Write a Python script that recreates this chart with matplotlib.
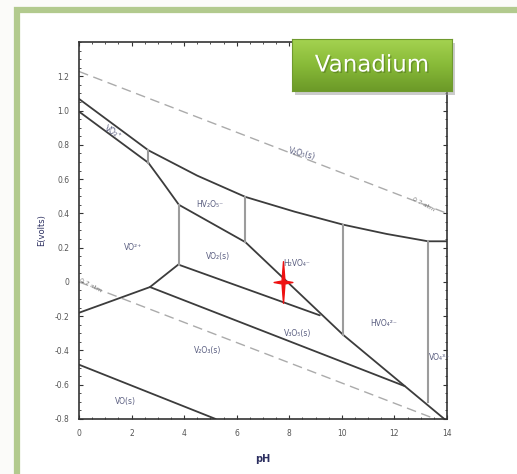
import numpy as np
import matplotlib
matplotlib.use('Agg')
import matplotlib.pyplot as plt
import matplotlib.patheffects as pe
from matplotlib.patches import Rectangle
from matplotlib.path import Path

# boundary lines of the diagram (pH, E in volts)
upper_x = [0, 2.64, 4.5, 6.33, 8.2, 10.05, 11.7, 13.28, 14]
upper_y = [1.068, 0.768, 0.62, 0.496, 0.41, 0.334, 0.28, 0.237, 0.237]
vo2_x = [0, 2.64]
vo2_y = [0.994, 0.695]
left_x = [2.64, 3.2, 3.8]
left_y = [0.695, 0.578, 0.45]
mid_x = [3.8, 6.33, 10.05, 13.9]
mid_y = [0.45, 0.232, -0.309, -0.8]
solid_x = [3.8, 9.16]
solid_y = [0.10, -0.195]
acid_x = [0, 1.3, 2.7, 3.8]
acid_y = [-0.18, -0.108, -0.03, 0.104]
low_x = [2.7, 12.39]
low_y = [-0.03, -0.608]
bottom_x = [0, 5.2]
bottom_y = [-0.483, -0.8]

# vertical boundaries: (pH, E from, E to)
verticals = [(2.64, 0.695, 0.768), (3.8, 0.10, 0.45), (6.33, 0.232, 0.496),
             (10.05, -0.309, 0.334), (13.28, -0.70, 0.237)]

# water lines
o2_x = [0, 14]
o2_y = [1.228, 0.40]
h2_x = [0, 14]
h2_y = [0.0, -0.826]

# region labels
labels = ['VO₂⁺', 'V₂O₅(s)', 'VO²⁺', 'HV₂O₅⁻', 'VO₂(s)', 'H₂VO₄⁻',
          'V₃O₅(s)', 'HVO₄²⁻', 'VO₄³⁻', 'V₂O₃(s)', 'VO(s)']
label_x = [1.3, 8.5, 2.05, 4.98, 5.3, 8.3, 8.3, 11.6, 13.7, 4.9, 1.75]
label_y = [0.875, 0.745, 0.20, 0.45, 0.15, 0.105, -0.30, -0.24, -0.44, -0.40, -0.695]
label_rot = [-30, -14, 0, 0, 0, 0, 0, 0, 0, 0, 0]

# point of interest
star_x = [7.77]
star_y = [0.0]

xticks = [0, 2, 4, 6, 8, 10, 12, 14]
yticks = [-0.8, -0.6, -0.4, -0.2, 0, 0.2, 0.4, 0.6, 0.8, 1.0, 1.2]
ytick_labels = ['-0.8', '-0.6', '-0.4', '-0.2', '0', '0.2', '0.4', '0.6', '0.8', '1.0', '1.2']

W, H = 517, 474
fig = plt.figure(figsize=(W / 100, H / 100), dpi=100)
fig.patch.set_facecolor('#fbfbf9')

# slide panel with green border
fig.add_artist(Rectangle((17 / W, -0.1), 1.2, (H - 10) / H + 0.1, transform=fig.transFigure,
                         facecolor='white', edgecolor='#b2ca8e', lw=4.5, zorder=-10))

ax = fig.add_axes([79 / W, 55 / H, 368 / W, 377 / H])
ax.set_zorder(1)
ax.patch.set_alpha(0)
line_kw = dict(color='#3c3c3c', lw=1.3, solid_capstyle='round')
for xs, ys in [(upper_x, upper_y), (vo2_x, vo2_y), (left_x, left_y), (mid_x, mid_y),
               (solid_x, solid_y), (acid_x, acid_y), (low_x, low_y), (bottom_x, bottom_y)]:
    ax.plot(xs, ys, **line_kw)
for vx, y0, y1 in verticals:
    ax.plot([vx, vx], [y0, y1], color='#9c9c9c', lw=1.5)

ax.plot(o2_x, o2_y, color='#ababab', lw=1.0, dashes=(7, 4))
ax.plot(h2_x, h2_y, color='#ababab', lw=1.0, dashes=(7, 4))
ax.text(13.1, 0.45, '0.2 atm', fontsize=4.5, color='#777777', rotation=-28, ha='center', va='center')
ax.text(0.45, -0.02, '0.7 atm', fontsize=4.5, color='#777777', rotation=-28, ha='center', va='center')

for t, lx, ly, r in zip(labels, label_x, label_y, label_rot):
    ax.text(lx, ly, t, fontsize=5.5, color='#5a5e80', rotation=r, ha='center', va='center',
            clip_on=False)

star = Path([(0, 1), (0.07, 0.07), (0.45, 0), (0.07, -0.07), (0, -1), (-0.07, -0.07),
             (-0.45, 0), (-0.07, 0.07), (0, 1)],
            [Path.MOVETO] + [Path.LINETO] * 7 + [Path.CLOSEPOLY])
ax.plot(star_x, star_y, marker=star, markersize=30, color='#ee1111', mec='#ee1111', ls='none')

ax.set_xlim(0, 14)
ax.set_ylim(-0.8, 1.4)
ax.set_xticks(xticks)
ax.set_yticks(yticks)
ax.set_yticklabels(ytick_labels)
ax.set_xticks(np.arange(0, 14.01, 0.5), minor=True)
ax.set_yticks(np.arange(-0.8, 1.401, 0.05), minor=True)
ax.tick_params(which='both', direction='in', top=True, right=True, colors='#333333',
               labelsize=5.5, labelcolor='#555555')
ax.tick_params(which='major', length=3, pad=7)
ax.tick_params(which='minor', length=1.5)
for s in ax.spines.values():
    s.set_color('#333333')
    s.set_linewidth(1.2)
ax.set_xlabel('pH', fontsize=7, color='#2c2f60', fontweight='bold', labelpad=12)
ax.set_ylabel('E(volts)', fontsize=6, color='#2c2f60', labelpad=6)

# Vanadium badge
bx, by, bw, bh = 292 / W, (H - 91) / H, 160 / W, 52 / H
fig.add_artist(Rectangle((bx + 3 / W, by - 4 / H), bw, bh, transform=fig.transFigure,
                         facecolor='#9a9a9a', edgecolor='none', alpha=0.5, zorder=4))
bax = fig.add_axes([bx, by, bw, bh])
bax.set_zorder(5)
grad = np.linspace(0, 1, 64).reshape(-1, 1)
bax.imshow(grad, aspect='auto', cmap=matplotlib.colors.LinearSegmentedColormap.from_list(
    'badge', ['#a4d250', '#88ba38', '#6c9a28']), extent=[0, 1, 0, 1], origin='upper')
bax.set_xlim(0, 1)
bax.set_ylim(0, 1)
bax.set_xticks([])
bax.set_yticks([])
for s in bax.spines.values():
    s.set_color('#6f9a2e')
bax.text(0.5, 0.5, 'Vanadium', color='white', fontsize=16.5, ha='center', va='center',
         transform=bax.transAxes,
         path_effects=[pe.withSimplePatchShadow(offset=(1, -1), shadow_rgbFace='#4d6e1c', alpha=0.5)])

fig.savefig('out.png', dpi=100)
